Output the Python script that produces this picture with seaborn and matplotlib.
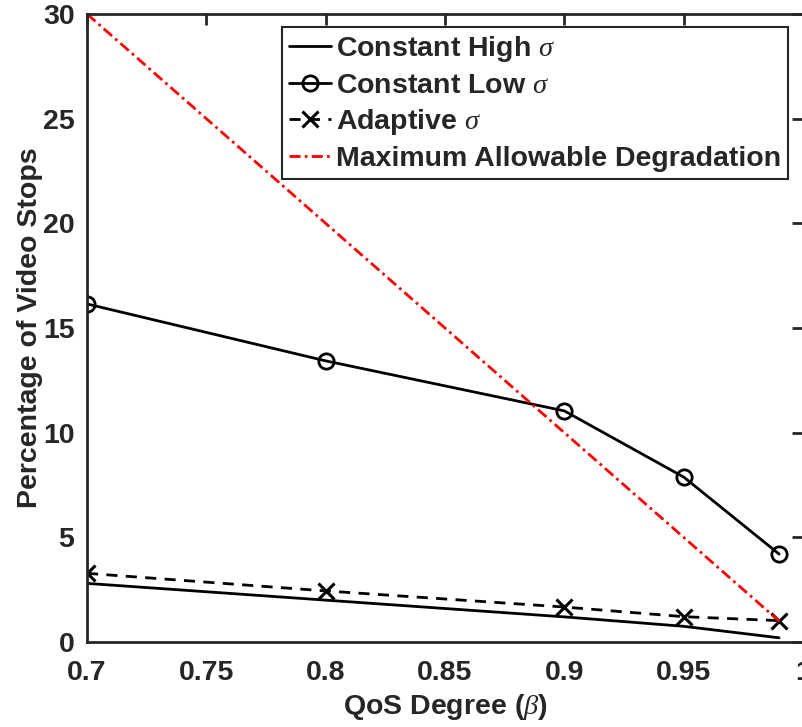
import matplotlib
matplotlib.use("Agg")
import matplotlib.pyplot as plt
import seaborn as sns
import pandas as pd
import numpy as np

beta = [0.7, 0.8, 0.9, 0.95, 0.99]
const_high = [2.8, 2.0, 1.2, 0.75, 0.2]
const_low = [16.15, 13.43, 11.04, 7.88, 4.2]
adaptive = [3.28, 2.44, 1.67, 1.21, 1.02]
max_degr = [30, 20, 10, 5, 1]

x_ticks = [0.7, 0.75, 0.8, 0.85, 0.9, 0.95, 1.0]
x_ticklabels = ["0.7", "0.75", "0.8", "0.85", "0.9", "0.95", "1"]
y_ticks = [0, 5, 10, 15, 20, 25, 30]

sns.set_theme(style="white")
plt.rcParams['font.family'] = ['Liberation Sans', 'DejaVu Sans']
plt.rcParams['font.weight'] = 'bold'
plt.rcParams['mathtext.fontset'] = 'custom'
plt.rcParams['mathtext.it'] = 'Liberation Serif:italic:normal'
plt.rcParams['mathtext.rm'] = 'Liberation Sans:bold'

FS = 20.5
fig = plt.figure(figsize=(8.02, 7.27), dpi=100)
ax = fig.add_axes([87/802, 1 - 642/727, (803-87)/802, (642-14)/727])

df = pd.DataFrame({"beta": beta, "high": const_high, "low": const_low,
                   "adaptive": adaptive, "maxd": max_degr})

sns.lineplot(data=df, x="beta", y="high", ax=ax, color="black", lw=2,
             label=r"Constant High $\sigma$")
sns.lineplot(data=df, x="beta", y="low", ax=ax, color="black", lw=2,
             marker="o", markersize=11, markerfacecolor="none",
             markeredgecolor="black", markeredgewidth=2,
             label=r"Constant Low $\sigma$")
sns.lineplot(data=df, x="beta", y="adaptive", ax=ax, color="black", lw=2,
             linestyle=(0, (4, 3)), marker="x", markersize=11,
             markeredgecolor="black", markeredgewidth=2.2,
             label=r"Adaptive $\sigma$")
sns.lineplot(data=df, x="beta", y="maxd", ax=ax, color="red", lw=2,
             linestyle=(0, (4, 1.5, 1, 1.5)),
             label="Maximum Allowable Degradation")

ax.set_xlim(0.7, 1.0)
ax.set_ylim(0, 30)
ax.set_xticks(x_ticks)
ax.set_xticklabels(x_ticklabels)
ax.set_yticks(y_ticks)
ax.tick_params(direction="in", length=8, width=2, colors="#262626",
               labelsize=FS, top=True, right=True)
ax.tick_params(axis="x", pad=13)
ax.tick_params(axis="y", pad=9)
for lab in ax.get_xticklabels() + ax.get_yticklabels():
    lab.set_fontweight("bold")
for s in ax.spines.values():
    s.set_color("#262626")
    s.set_linewidth(2)

ax.set_xlabel(r"QoS Degree ($\beta$)", fontsize=FS, fontweight="bold",
              color="#262626", labelpad=4)
ax.set_ylabel("Percentage of Video Stops", fontsize=FS, fontweight="bold",
              color="#262626", labelpad=0)

leg = ax.legend(loc="upper right", bbox_to_anchor=((788 - 87)/716, 1 - 13/628),
                bbox_transform=ax.transAxes,
                prop={"size": FS, "weight": "bold"}, frameon=True,
                fancybox=False, edgecolor="#262626", framealpha=1,
                handlelength=1.5, handletextpad=0.15, borderpad=0.25,
                labelspacing=0.3, borderaxespad=0)
leg.get_frame().set_linewidth(1.5)

fig.savefig("out.png", dpi=100)
